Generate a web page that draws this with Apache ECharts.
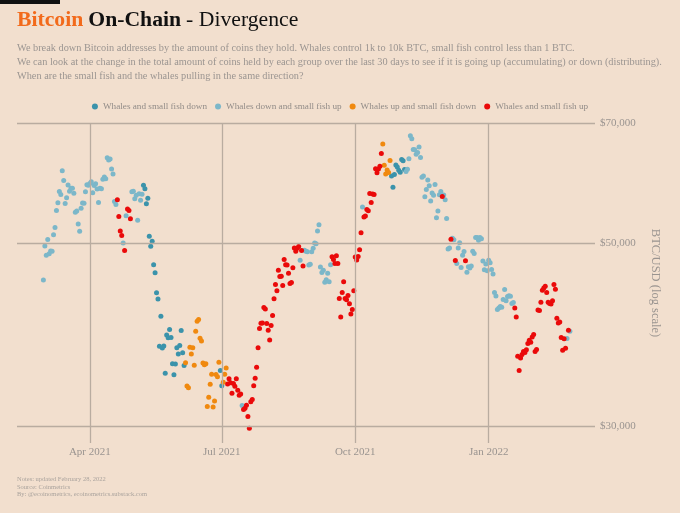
<!DOCTYPE html>
<html><head><meta charset="utf-8">
<script src="https://cdn.jsdelivr.net/npm/echarts@6/dist/echarts.min.js"></script>
<style>html,body{margin:0;padding:0;background:#f2dfce}#c{width:680px;height:513px}</style>
</head><body><div id="c"></div>
<script>
// ---------- DATA (daily BTC/USD close) ----------
const firstDay = '2021-02-28';
const priceFeb2021 = [45137];
const catFeb2021 = 'L';
const priceMar2021 = [49631,48378,50538,48561,48927,48912,51206,52246,54824,56008,57805,57333,61243,59600,55907,56804,58870,57858,58346,58313,57523,54529,54738,52774,51704,55137,55974,55947,57750,58920,58800];
const catMar2021 = 'LLLLLLLLLLLLLLLLLLLLLLLLLLLLLLL';
const priceApr2021 = [59095,59384,57604,58760,59057,58192,56049,58323,58245,59793,60204,59893,63503,63110,63314,61572,60684,56216,55724,56473,53906,51763,51093,50050,49004,54021,55033,54824,53555,57750];
const catApr2021 = 'LLLLLLLLLLLLLLLLLLLRRRRLRLRRRL';
const priceMay2021 = [57828,56631,57200,53333,57424,56397,57356,58803,58232,55859,56704,51000,49600,50300,47100,46050,43540,42800,37500,40783,37304,37536,34770,38705,38402,39294,38436,35697,34616,35678,37332];
const catMay2021 = 'LLLLLLLDDDDDDDDDDDDDDDDDDDDDDDD';
const priceJun2021 = [36684,37575,39188,36825,35521,35796,33552,33380,37389,36702,37334,35553,39097,40218,40406,38347,38053,35787,35615,35698,31676,32505,33723,34662,31637,32186,34649,34434,35867,35040];
const catJun2021 = 'DDDDDOOOOOOOOOOOOOOOOOOOOOOOOD';
const priceJul2021 = [33572,33897,34668,35287,33746,34235,33855,32877,33798,33520,34240,33155,32702,32822,31780,31421,31533,31796,30817,29807,32110,32313,33581,34292,35350,37337,39406,39995,40008,41800,41626];
const catJul2021 = 'DOOORRRRRRRRRRLRRRRRRRRRRRRRRRR';
const priceAug2021 = [39974,39201,38152,39747,40870,42816,44555,43798,46366,45585,45593,44428,47793,47096,47047,46004,44695,44801,46717,49339,48905,49321,49546,47707,48993,46942,49058,48903,48830,47054,47167];
const catAug2021 = 'RRRRRRRRRRRRRRRRRRRRRRRLRRLLLLL';
const priceSep2021 = [48848,49327,50035,49947,51769,52678,46809,46078,46369,44851,45174,46004,44896,47093,48176,47784,47267,48279,47261,42844,40694,43574,44895,42840,42716,43208,42236,41035,41564,43791];
const catSep2021 = 'LLLLLLLLLLLLLLRRRRRRRRRRRRRRRR';
const priceOct2021 = [48116,47711,48199,49112,51515,55361,53805,53967,54968,54771,57485,56041,57401,57321,61593,60892,61553,62026,64262,65993,62210,60693,61393,60931,63039,60364,58483,60622,62228,61888,61318];
const catOct2021 = 'RRRRRLRRRRRRRRRRRRROOOOOODDDDDD';
const priceNov2021 = [61004,63227,62970,61453,61125,61528,63326,67566,66971,64996,64950,64155,64469,65466,63557,60161,60369,56942,58120,59697,58730,56289,57570,57193,58960,53727,54722,57275,57806,57005];
const catNov2021 = 'DDDDLLLLLLLLLLLLLLLLLLLLLLLLLR';
const priceDec2021 = [57229,56477,53598,49200,49368,50582,50700,50504,47672,47243,49362,50098,46737,48379,48864,47632,46131,46834,46681,46914,48890,48588,50838,50821,50429,50809,50640,47588,46444,47178,46306];
const catDec2021 = 'LLLLLRLLRLLLLLLRLLLLLLLLLLLLLLL';
const priceJan2022 = [47686,47345,46458,45897,43569,43160,41558,41734,41912,41822,42736,43949,42592,43099,43177,43113,42250,42375,41744,40680,36457,35030,36276,36654,36954,36852,37138,37784,38138,37917,38483];
const catJan2022 = 'LLLLLLLLLLLLLLLLLLRRRRRRRRRRRRR';
const priceFeb2022 = [38743,36952,37154,41500,41441,42412,43840,44118,44339,43565,42407,42244,42197,42586,44575,43961,40538,40030,40122,38431,37075,38286,37296,38332,39214,39105];
const catFeb2022 = 'RRRRRRRRRRRRRRRRRRRRRRRLRL';

const categoryCodes = ['D','L','O','R'];
const categoryNames = ['Whales and small fish down','Whales down and small fish up','Whales up and small fish down','Whales and small fish up'];
const xTickDates = ['2021-04-01','2021-07-01','2021-10-01','2022-01-01'];
const xTickLabels = ['Apr 2021','Jul 2021','Oct 2021','Jan 2022'];
const yTickValues = [30000, 50000, 70000];
const yTickLabels = ['$30,000','$50,000','$70,000'];

// ---------- BUILD ----------
const DAY = 86400000;
function utc(s){const p=s.split('-').map(Number);return Date.UTC(p[0],p[1]-1,p[2]);}
const allPrices = [].concat(priceFeb2021,priceMar2021,priceApr2021,priceMay2021,priceJun2021,priceJul2021,priceAug2021,priceSep2021,priceOct2021,priceNov2021,priceDec2021,priceJan2022,priceFeb2022);
const allCats = (catFeb2021+catMar2021+catApr2021+catMay2021+catJun2021+catJul2021+catAug2021+catSep2021+catOct2021+catNov2021+catDec2021+catJan2022+catFeb2022).split('');
const t0 = utc(firstDay);
const seriesData = categoryCodes.map(()=>[]);
allPrices.forEach((p,i)=>{
  const k = categoryCodes.indexOf(allCats[i]);
  seriesData[k].push([t0 + i*DAY, p]);
});

const colors = ['#3b93ab','#7cb7c9','#f0890f','#ea0a0a'];
const FONT = '"Liberation Serif", "DejaVu Serif", serif';
const GRID = '#b9aca0';
const apr1 = utc('2021-04-01');

const markLine = {
  silent: true, symbol: ['none','none'], animation: false,
  lineStyle: {color: GRID, width: 1.3, type: 'solid'},
  label: {color: '#9a9490', fontFamily: FONT, fontSize: 11},
  emphasis: {disabled: true},
  data: yTickValues.map((v,i)=>({yAxis: v, label:{position:'end', formatter: yTickLabels[i], distance: 5}}))
    .concat(xTickDates.map((d,i)=>({xAxis: utc(d), label:{position:'start', formatter: xTickLabels[i], distance: 4}})))
};

const chart = echarts.init(document.getElementById('c'), null, {renderer:'canvas'});
chart.setOption({
  backgroundColor: '#f2dfce',
  animation: false,
  graphic: [{type:'rect', left:0, top:0, shape:{width:60, height:4}, style:{fill:'#111'}}],
  title: [
    {left: 17, top: 9, padding: 0, text: '{a|Bitcoin} {b|On-Chain} {c|- Divergence}',
     textStyle: {rich: {
       a: {color:'#f26a1b', fontWeight:'bold', fontSize:21.7, fontFamily:FONT},
       b: {color:'#111', fontWeight:'bold', fontSize:21.7, fontFamily:FONT},
       c: {color:'#111', fontWeight:'normal', fontSize:21.7, fontFamily:FONT}
     }}},
    {left: 17, top: 41, padding: 0, text: 'We break down Bitcoin addresses by the amount of coins they hold. Whales control 1k to 10k BTC, small fish control less than 1 BTC.\nWe can look at the change in the total amount of coins held by each group over the last 30 days to see if it is going up (accumulating) or down (distributing).\nWhen are the small fish and the whales pulling in the same direction?',
     textStyle: {color:'#9b9591', fontSize:10.3, fontWeight:'normal', fontFamily:FONT, lineHeight:14.2}},
    {left: 17, top: 476, padding: 0, text: 'Notes: updated February 28, 2022\nSource: Coinmetrics\nBy: @ecoinometrics, ecoinometrics.substack.com',
     textStyle: {color:'#aaa39d', fontSize:6.5, fontWeight:'normal', fontFamily:FONT, lineHeight:7.5}}
  ],
  legend: {
    top: 97, left: 'center', icon: 'circle', itemWidth: 6, itemHeight: 6, itemGap: 8,
    textStyle: {color:'#928c88', fontSize: 9.2, fontFamily: FONT},
    data: categoryNames
  },
  grid: {left: 17, right: 85, top: 123, bottom: 70, containLabel: false},
  xAxis: {
    type: 'time', min: apr1 - 50.2*DAY, max: apr1 + 348.3*DAY,
    axisLine:{show:false}, axisTick:{show:false}, axisLabel:{show:false}, splitLine:{show:false}
  },
  yAxis: {
    type: 'log', logBase: 10, position: 'right', min: 28610, max: 70000,
    name: 'BTC/USD (log scale)', nameLocation: 'middle', nameRotate: -90, nameGap: 54,
    nameTextStyle: {color:'#9a9490', fontSize: 12.5, fontFamily: FONT},
    axisLine:{show:false}, axisTick:{show:false}, axisLabel:{show:false}, splitLine:{show:false}
  },
  series: categoryNames.map((name,k)=>({
    name, type:'scatter', data: seriesData[k], symbolSize: 5,
    itemStyle: {color: colors[k], opacity: 1},
    emphasis: {disabled: true},
    markLine: k === 0 ? markLine : undefined
  }))
});
</script></body></html>
